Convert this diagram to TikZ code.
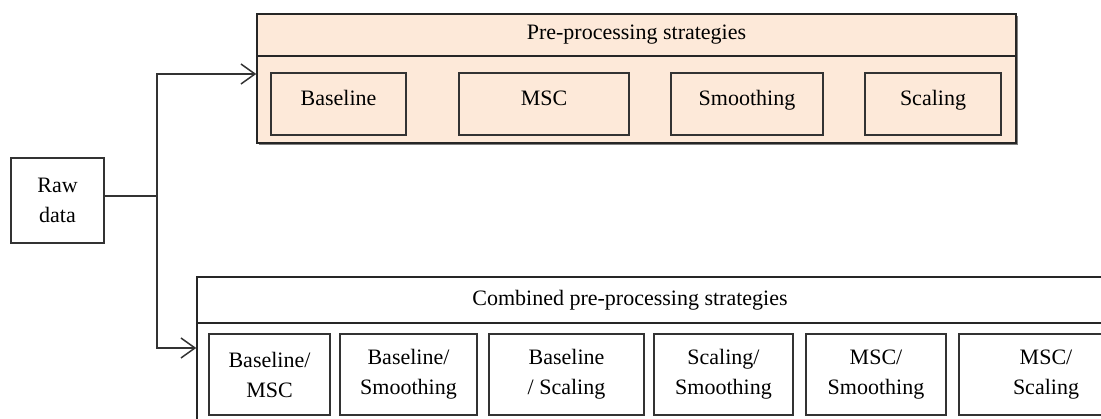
\documentclass[tikz,border=0pt]{standalone}
\usepackage{fontspec}
\setmainfont{Liberation Serif}
\usetikzlibrary{arrows.meta,shadows}
\definecolor{peach}{HTML}{FDE9D9}
\tikzstyle{container}=[draw=black!85, line width=1.5pt, rectangle, inner sep=0pt]
\tikzstyle{subbox}=[draw=black!80, line width=1.5pt, rectangle, align=center, inner sep=0pt]
\tikzstyle{topbox}=[subbox, minimum height=62pt, text height=15pt, text depth=11pt]
\tikzstyle{plainline}=[line width=1.5pt, draw=black!80]
\tikzstyle{flow}=[plainline, -{Straight Barb[length=14pt,width=20pt]}]
\tikzstyle{shade}=[drop shadow={shadow xshift=2pt, shadow yshift=-2pt, fill=black!50, opacity=1}]

\begin{document}
\begin{tikzpicture}[x=1pt, y=-1pt, font=\fontsize{22}{30}\selectfont]
    \useasboundingbox (0,0) rectangle (1101,419);
    \clip (0,0) rectangle (1101,419);

    % input
    \node[subbox, minimum width=93pt, minimum height=85pt] (raw) at (57.5,200.5) {Raw\\data};

    % single strategies
    \node[container, shade, fill=peach, minimum width=759pt, minimum height=42pt] (prehead) at (636.5,35) {Pre-processing strategies};
    \node[container, shade, fill=peach, minimum width=759pt, minimum height=87pt] (prebody) at (636.5,99.5) {};
    \node[topbox, minimum width=135pt] (baseline) at (338.5,104) {Baseline};
    \node[topbox, minimum width=170pt] (msc) at (544,104) {MSC};
    \node[topbox, minimum width=152pt] (smoothing) at (747,104) {Smoothing};
    \node[topbox, minimum width=136pt] (scaling) at (933,104) {Scaling};

    % combined strategies
    \node[container, fill=white, minimum width=943pt, minimum height=46pt] (combhead) at (668.5,300) {};
    \node[inner sep=0pt] (combtitle) at (630,300) {Combined pre-processing strategies};
    \node[container, fill=white, minimum width=943pt, minimum height=117pt] (combbody) at (668.5,381.5) {};
    \node[subbox, minimum width=121pt, minimum height=81pt] (blmsc) at (269.5,374.5) {Baseline/\\MSC};
    \node[subbox, minimum width=137pt, minimum height=81pt] (blsmo) at (408.5,374.5) {Baseline/\\Smoothing};
    \node[subbox, minimum width=155pt, minimum height=81pt] (blsca) at (566.5,374.5) {Baseline\\/ Scaling};
    \node[subbox, minimum width=139pt, minimum height=81pt] (scsmo) at (723.5,374.5) {Scaling/\\Smoothing};
    \node[subbox, minimum width=140pt, minimum height=81pt] (mscsmo) at (876,374.5) {MSC/\\Smoothing};
    \node[subbox, minimum width=174pt, minimum height=81pt] (mscsca) at (1046,374.5) {MSC/\\Scaling};

    % arrows
    \coordinate (split) at (157,196);
    \draw[plainline] (raw.east |- split) -- (split);
    \draw[flow] (split) |- (prebody.west |- 0,74);
    \draw[flow] (split) |- (combbody.west |- 0,348);
\end{tikzpicture}
\end{document}
